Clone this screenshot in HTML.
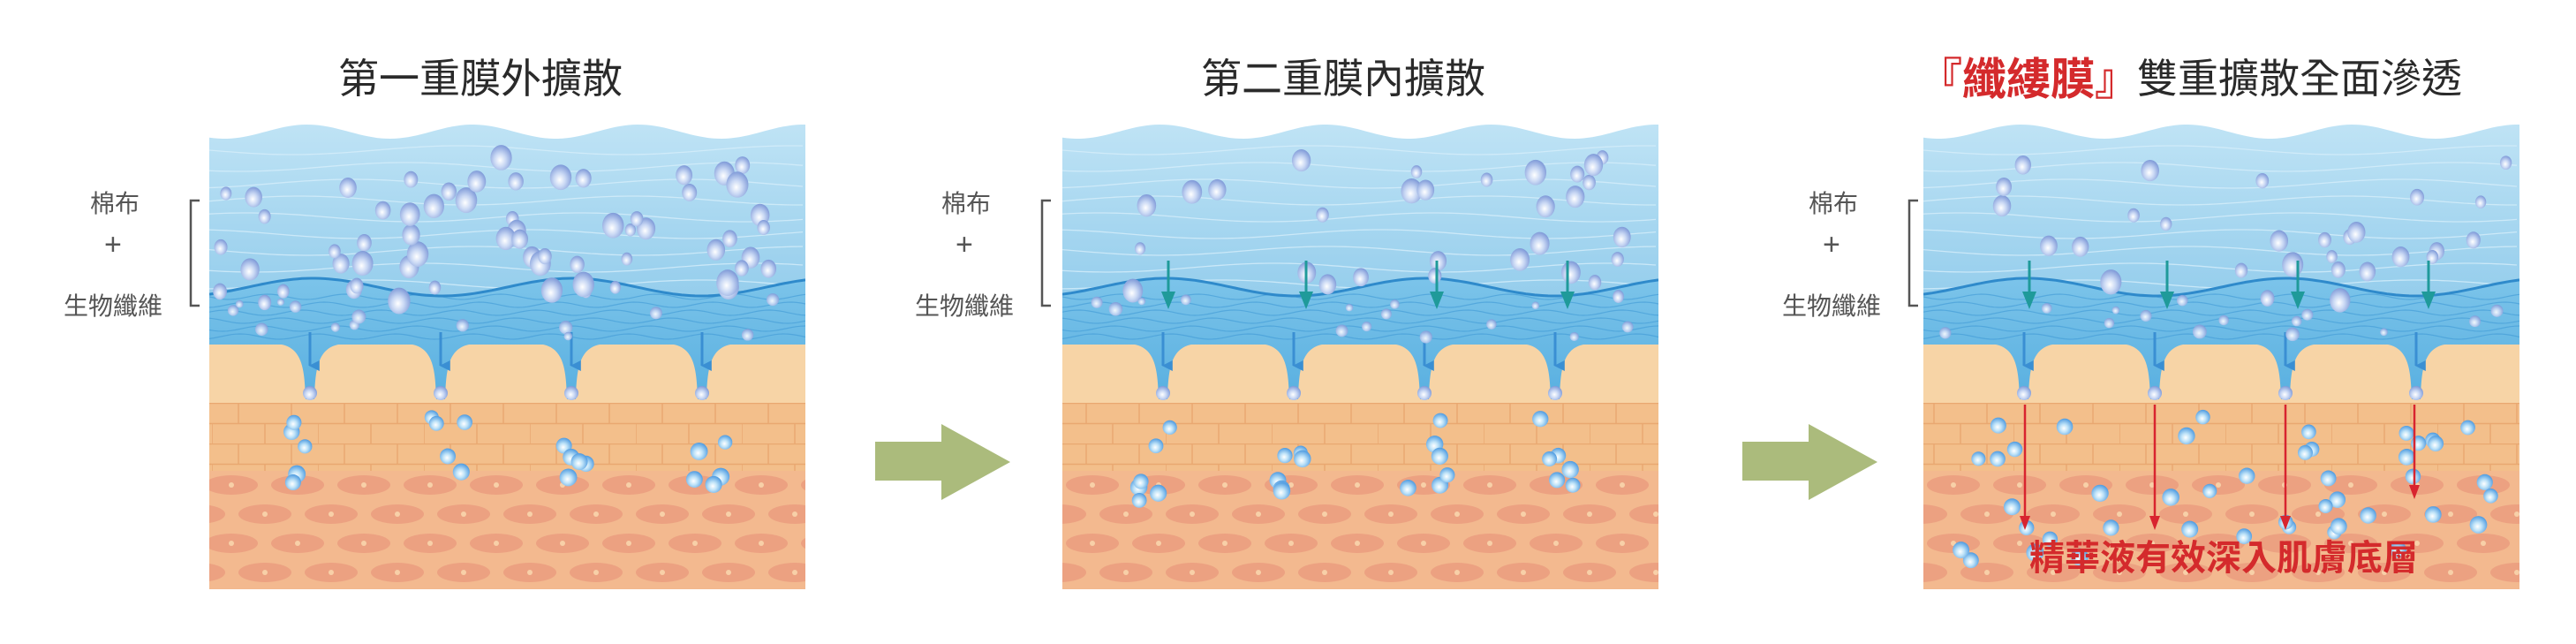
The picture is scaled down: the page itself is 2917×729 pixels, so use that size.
<!DOCTYPE html>
<html><head><meta charset="utf-8"><style>
html,body{margin:0;padding:0;background:#fff;width:2917px;height:729px;overflow:hidden}
svg text{font-family:"Liberation Sans","Noto Sans CJK TC","Noto Sans CJK SC",sans-serif}
</style></head><body>
<svg id="s" width="2917" height="729" viewBox="0 0 2917 729" xmlns="http://www.w3.org/2000/svg">
<defs>
<linearGradient id="wg" x1="0" y1="0" x2="0" y2="1"><stop offset="0" stop-color="#bfe3f5"/><stop offset="1" stop-color="#94cdec"/></linearGradient>
<linearGradient id="fg" x1="0" y1="0" x2="0" y2="1"><stop offset="0" stop-color="#7cc4ea"/><stop offset="1" stop-color="#58afe0"/></linearGradient>
<radialGradient id="bb" cx="0.45" cy="0.6" r="0.6"><stop offset="0" stop-color="#ffffff"/><stop offset="0.45" stop-color="#c9d8f4"/><stop offset="1" stop-color="#7f9ad8"/></radialGradient>
<radialGradient id="bb2" cx="0.45" cy="0.6" r="0.6"><stop offset="0" stop-color="#ffffff"/><stop offset="0.4" stop-color="#bfe3f8"/><stop offset="1" stop-color="#4f9be0"/></radialGradient>
<pattern id="brick" x="0" y="456" width="120" height="46" patternUnits="userSpaceOnUse">
<rect width="120" height="46" fill="#f3bf8b"/>
<path d="M0 0.5H120M0 23.5H120M30 0V23M90 0V23M0 23V46M60 23V46" stroke="#e9a871" stroke-width="1.5" fill="none"/>
</pattern>
<pattern id="cell" x="0" y="533" width="150" height="66" patternUnits="userSpaceOnUse">
<rect width="150" height="66" fill="#f3b98f"/>
<g fill="#eca181">
<ellipse cx="37" cy="16" rx="30" ry="11"/><ellipse cx="112" cy="16" rx="30" ry="11"/>
<ellipse cx="0" cy="49" rx="30" ry="11"/><ellipse cx="75" cy="49" rx="30" ry="11"/><ellipse cx="150" cy="49" rx="30" ry="11"/>
</g>
<g fill="#f8d0a8">
<circle cx="37" cy="16" r="3"/><circle cx="112" cy="16" r="3"/><circle cx="0" cy="49" r="3"/><circle cx="75" cy="49" r="3"/><circle cx="150" cy="49" r="3"/>
</g>
</pattern>
<marker id="ab" viewBox="0 0 10 10" refX="5" refY="9" markerWidth="4" markerHeight="4" orient="auto-start-reverse"><path d="M0 0L10 0L5 10Z" fill="#3a8fd3"/></marker>
</defs>
<g id="panels"></g>
<g fill="#555" font-size="28">
<text x="102" y="240">棉布</text><text x="118" y="288" font-size="34">+</text><text x="72" y="356">生物纖維</text>
<text x="1066" y="240">棉布</text><text x="1082" y="288" font-size="34">+</text><text x="1036" y="356">生物纖維</text>
<text x="2048" y="240">棉布</text><text x="2064" y="288" font-size="34">+</text><text x="2018" y="356">生物纖維</text>
</g>
<g stroke="#555" stroke-width="2.5" fill="none">
<path d="M226 227H216V346H226"/><path d="M1190 227H1180V346H1190"/><path d="M2172 227H2162V346H2172"/>
</g>
<g font-size="46" fill="#2a2a2a">
<text x="383" y="105">第一重膜外擴散</text>
<text x="1360" y="105">第二重膜內擴散</text>
<text x="2172" y="107" fill="#d42a2c" font-weight="bold" font-size="50">『纖縷膜』</text>
<text x="2420" y="105">雙重擴散全面滲透</text>
</g>
<text x="2298" y="645" font-size="40" fill="#d42a2c" font-weight="bold">精華液有效深入肌膚底層</text>
<g fill="#abbb7c">
<path d="M991 500H1066V480L1144 523L1066 566V544H991Z"/>
<path d="M1973 500H2048V480L2126 523L2048 566V544H1973Z"/>
</g>
</svg>
<script>
(function(){
var NS="http://www.w3.org/2000/svg",g=document.getElementById('panels');
var seed=7;function r(){seed=(seed*16807)%2147483647;return seed/2147483647;}
function el(t,a,p){var e=document.createElementNS(NS,t);for(var k in a)e.setAttribute(k,a[k]);(p||g).appendChild(e);return e;}
var panels=[[237,0],[1203,1],[2178,2]];var W=675,T=140,B=667;
panels.forEach(function(pp){
 var x0=pp[0],k=pp[1],grp=el('g',{});
 var cp=el('clipPath',{id:'c'+k},grp);el('rect',{x:x0,y:T,width:W,height:B-T},cp);
 var pg=el('g',{'clip-path':'url(#c'+k+')'},grp);
 el('rect',{x:x0,y:456,width:W,height:80,fill:'url(#brick)'},pg);
 el('rect',{x:x0,y:533,width:W,height:B-533,fill:'url(#cell)'},pg);
 el('rect',{x:x0,y:388,width:W,height:68,fill:'#f7d4a6'},pg);
 var pts='';for(var x=0;x<=W;x+=5){pts+='L'+(x0+x)+' '+(T+9+8*Math.sin(x/W*2*Math.PI*3.6+1)).toFixed(1);}
 el('path',{d:'M'+x0+' 340'+pts+'L'+(x0+W)+' 340Z',fill:'url(#wg)'},pg);
 for(var i=0;i<9;i++){var yy=T+30+i*19,pp2='';for(var x=0;x<=W;x+=6){pp2+=(x?'L':'M')+(x0+x)+' '+(yy+5*Math.sin(x/60+i)).toFixed(1);}el('path',{d:pp2,stroke:'#d6eefa',"stroke-width":1.3,fill:'none',opacity:0.8},pg);}
 var drips=[114,262,410,558];
 var fb='';for(var x=0;x<=W;x+=5){fb+='L'+(x0+x)+' '+(325+10*Math.sin(x/W*2*Math.PI*2.3+2.2)).toFixed(1);}
 var bot='L'+(x0+W)+' 390';
 for(var j=3;j>=0;j--){var cx=x0+drips[j];bot+='L'+(cx+32)+' 390C'+(cx+8)+' 395 '+(cx+6)+' 420 '+(cx+5)+' 452L'+(cx-5)+' 452C'+(cx-6)+' 420 '+(cx-8)+' 395 '+(cx-32)+' 390';}
 bot+='L'+x0+' 390Z';
 el('path',{d:'M'+x0+' 390'+fb+bot,fill:'url(#fg)'},pg);
 for(var i=0;i<6;i++){var yy=336+i*9,pp2='';for(var x=0;x<=W;x+=5){pp2+=(x?'L':'M')+(x0+x)+' '+(yy+3*Math.sin(x/14+i*1.7)).toFixed(1);}el('path',{d:pp2,stroke:'#3f9ad6',"stroke-width":1.2,fill:'none',opacity:0.6},pg);}
 el('path',{d:'M'+x0+' '+(325+10*Math.sin(2.2)).toFixed(1)+fb,stroke:'#2f8acb',"stroke-width":3,fill:'none'},pg);
 drips.forEach(function(dx){var cx=x0+dx;el('line',{x1:cx,y1:376,x2:cx,y2:414,stroke:'#3a8fd3',"stroke-width":3,'marker-end':'url(#ab)'},pg);el('circle',{cx:cx,cy:445,r:8,fill:'url(#bb)'},pg);});
 var nb=[62,30,28][k];
 for(var i=0;i<nb;i++){var bx=x0+12+r()*(W-24),by=T+38+r()*165,rr=7+r()*8;el('ellipse',{cx:bx,cy:by,rx:rr*0.85,ry:rr,fill:'url(#bb)'},pg);}
 for(var i=0;i<14;i++){var bx=x0+10+r()*(W-20),by=338+r()*45,rr=4+r()*4;el('circle',{cx:bx,cy:by,r:rr,fill:'url(#bb)',opacity:0.9},pg);}
 if(k<2){drips.forEach(function(dx){for(var i=0;i<(k?6:5);i++){var bx=x0+dx+(r()-0.5)*55,by=472+r()*(k?95:80);el('circle',{cx:bx,cy:by,r:8+r()*2,fill:'url(#bb2)'},pg);}});}
 else{for(var i=0;i<44;i++){var bx=x0+30+r()*(W-60),by=472+r()*165;el('circle',{cx:bx,cy:by,r:8+r()*2,fill:'url(#bb2)'},pg);}}
 if(k>0){[120,276,424,572].forEach(function(dx){var cx=x0+dx;el('line',{x1:cx,y1:295,x2:cx,y2:336,stroke:'#1f9a9a',"stroke-width":3},pg);el('path',{d:'M'+(cx-8)+' 330L'+(cx+8)+' 330L'+cx+' 350Z',fill:'#1f9a9a'},pg);});}
 if(k==2){[[115,600],[262,600],[410,600],[556,565]].forEach(function(a){var cx=x0+a[0];el('line',{x1:cx,y1:458,x2:cx,y2:a[1]-14,stroke:'#d8242f',"stroke-width":2.5},pg);el('path',{d:'M'+(cx-6)+' '+(a[1]-16)+'L'+(cx+6)+' '+(a[1]-16)+'L'+cx+' '+a[1]+'Z',fill:'#d8242f'},pg);});}
});
})();
</script>
</body></html>
